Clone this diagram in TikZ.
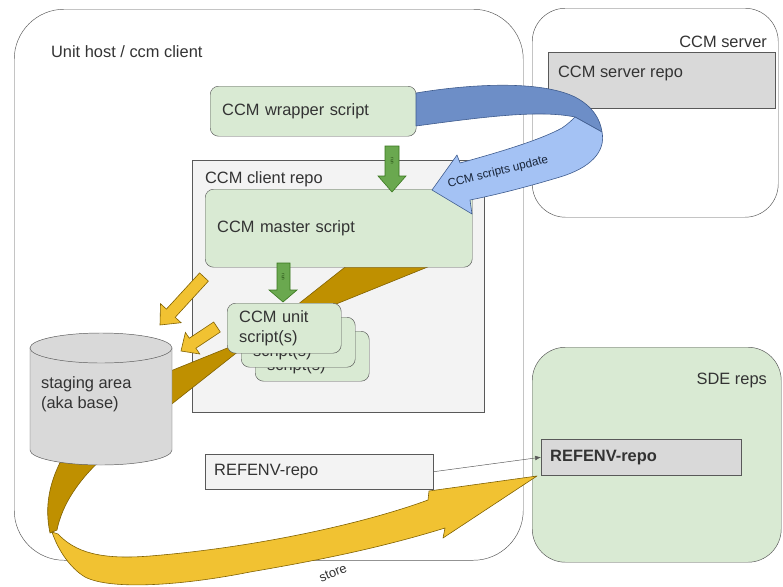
\documentclass[tikz,border=0pt]{standalone}
\usepackage{fontspec}
\setmainfont{Liberation Sans}
\usetikzlibrary{arrows.meta}

\definecolor{boxgreen}{HTML}{D9EAD3}
\definecolor{boxgray}{HTML}{D9D9D9}
\definecolor{repogray}{HTML}{F3F3F3}
\definecolor{edgegray}{HTML}{595959}
\definecolor{runfill}{HTML}{6AA84F}
\definecolor{runedge}{HTML}{38761D}
\definecolor{gold}{HTML}{F1C232}
\definecolor{darkgold}{HTML}{BF9000}
\definecolor{goldedge}{HTML}{7F6000}
\definecolor{bluedark}{HTML}{6D8EC7}
\definecolor{bluelight}{HTML}{A4C2F4}
\definecolor{blueedge}{HTML}{3D5A8C}
\definecolor{txt}{HTML}{333333}

\tikzset{
  every node/.style={font=\fontsize{14}{17}\selectfont, text=txt},
  hostbox/.style={draw=edgegray, fill=white, rounded corners=1.5cm, inner sep=0pt, anchor=north west},
  serverbox/.style={draw=edgegray, fill=white, rounded corners=1cm, inner sep=0pt, anchor=north west},
  sdebox/.style={serverbox, fill=boxgreen},
  graybox/.style={draw=edgegray, fill=boxgray, inner sep=0pt, anchor=north west, align=left},
  repobox/.style={draw=edgegray, fill=repogray, inner sep=0pt, anchor=north west, align=left},
  scriptbox/.style={draw=edgegray, fill=boxgreen, rounded corners=0.25cm, inner xsep=0.36cm, inner ysep=0pt, anchor=north west, align=left},
  stagebox/.style={draw=edgegray, fill=boxgray},
  backband/.style={draw=goldedge, fill=darkgold, line width=0.5pt, line join=round},
  storearrow/.style={draw=goldedge, fill=gold, line width=0.5pt, line join=round},
  usearrow/.style={draw=goldedge, fill=gold, line width=0.5pt},
  runarrow/.style={draw=runedge, fill=runfill, line width=0.5pt},
  runtext/.style={rotate=-90, font=\fontsize{4}{4}\selectfont, text=runedge!60!black, inner sep=0pt},
  blueback/.style={draw=blueedge, fill=bluedark, line width=0.5pt, line join=round},
  bluefront/.style={draw=blueedge, fill=bluelight, line width=0.5pt, line join=round}
}

\begin{document}
\begin{tikzpicture}[x=0.03cm, y=-0.03cm]
    \useasboundingbox (0,0) rectangle (783,586);
    % hosts
    \node[hostbox, minimum width=15.27cm, minimum height=16.53cm] (host) at (14,9) {};
    \node[anchor=west] (hostlbl) at (47,52) {Unit host / ccm client};
    \node[serverbox, minimum width=7.38cm, minimum height=6.27cm] (server) at (532,8) {};
    \node[anchor=east] (serverlbl) at (771,42) {CCM server};
    \node[sdebox, minimum width=7.47cm, minimum height=6.45cm] (sde) at (532,347) {};
    \node[anchor=east] (sdelbl) at (771,380) {SDE reps};
    % repos
    \node[graybox, minimum width=6.81cm, minimum height=1.68cm] (srvrepo) at (548,52) {};
    \node[anchor=west] (srvrepolbl) at (554,73) {CCM server repo};
    \node[graybox, text width=5.46cm, minimum height=1.08cm, inner xsep=0.27cm, font=\fontsize{14}{17}\selectfont\bfseries] (refr) at (541,439) {REFENV-repo};
    \node[repobox, minimum width=8.76cm, minimum height=7.56cm] (clientrepo) at (192,160) {};
    \node[anchor=west] (clientlbl) at (201,179) {CCM client repo};
    
    % store ribbon, back side
    \filldraw[backband] (354,260) -- (445,260) -- (168,372) -- (168,407) -- cycle;
    \filldraw[backband] (64,455) .. controls (50,480) and (44,505) .. (50,533) -- (57,530) .. controls (62,505) and (78,480) .. (106,455) -- cycle;
    
    % staging area
    \filldraw[stagebox] (30,348) -- (30,450) arc[start angle=180, end angle=0, x radius=71, y radius=15] -- (172,348) -- cycle;
    \filldraw[stagebox] (101,348) ellipse [x radius=71, y radius=15];
    \node[anchor=west, align=left] (stage) at (37,394) {staging area\\(aka base)};
    
    % scripts
    \node[scriptbox, text width=5.46cm, minimum height=1.5cm] (wrapper) at (210,86) {CCM wrapper script};
    \node[scriptbox, text width=7.29cm, minimum height=2.34cm] (master) at (205,189) {CCM master script};
    \foreach \d/\nm in {28/unitc, 14/unitb}
        \node[scriptbox, text width=2.70cm, minimum height=1.5cm] (\nm) at ({227+\d},{303+\d}) {CCM unit\\script(s)};
    \node[scriptbox, text width=2.70cm, minimum height=1.5cm] (unit) at (227,303) {CCM unit\\script(s)};
    
    % run arrows
    \filldraw[runarrow] (385,146) -- (399,146) -- (399,176) -- (406,176) -- (392,192) -- (378,176) -- (385,176) -- cycle;
    \node[runtext] (run1) at (392,161) {run};
    \filldraw[runarrow] (277,263) -- (290,263) -- (290,290) -- (297,290) -- (283,302) -- (269,290) -- (277,290) -- cycle;
    \node[runtext] (run2) at (283,277) {run};
    
    % arrows into staging area
    \filldraw[usearrow] (199.6,272.9) -- (208.4,281.1) -- (175.2,317.3) -- (181.1,322.7) -- (160,325) -- (160.5,303.7) -- (166.4,309.1) -- cycle;
    \filldraw[usearrow] (213.7,322.0) -- (220.3,332.0) -- (195.9,348.2) -- (199.8,354.0) -- (181,351) -- (185.4,332.4) -- (189.3,338.2) -- cycle;
    
    \node[repobox, text width=6.30cm, minimum height=1.05cm, inner xsep=0.27cm] (refl) at (205,454) {REFENV-repo};
    \draw[-{Latex[length=5pt, width=4pt]}, edgegray] (refl.east) -- (refr.west);
    
    % store ribbon, front side
    \filldraw[storearrow] (52,532) -- (58,534) .. controls (75,552) and (100,560) .. (150,556) .. controls (250,548) and (360,525) .. (428,500) -- (429,491) -- (537,476) -- (443,538) -- (445,528) .. controls (380,548) and (320,560) .. (250,572) .. controls (180,586) and (110,590) .. (85,577) .. controls (70,568) and (58,550) .. (52,532) -- cycle;
    \node[rotate=22, font=\fontsize{11}{13}\selectfont] (storelbl) at (333,573) {store};
    
    % scripts update ribbon
    \filldraw[blueback] (416,93) .. controls (470,84) and (540,80) .. (575,97) .. controls (592,106) and (600,118) .. (602,132) -- (575,117) .. controls (540,110) and (490,116) .. (416,126) -- cycle;
    \filldraw[bluefront] (602,132) .. controls (606,152) and (590,168) .. (560,177) .. controls (530,186) and (500,194) .. (470,200) -- (472,214) -- (432,190) -- (457,155) -- (460,163) .. controls (500,152) and (540,140) .. (562,128) .. controls (568,124) and (572,120) .. (575,117) -- cycle;
    \node[rotate=14, font=\fontsize{10}{12}\selectfont, text=blueedge!40!black] (updlbl) at (498,172) {CCM scripts update};
\end{tikzpicture}
\end{document}
